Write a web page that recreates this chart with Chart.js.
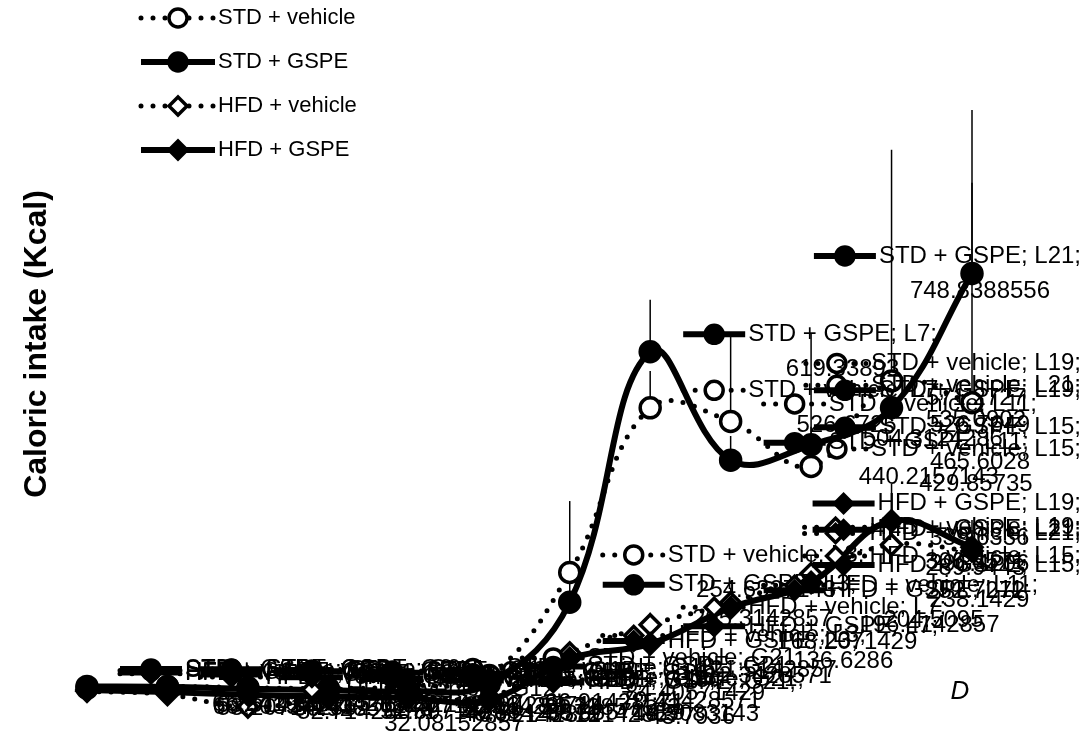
<!DOCTYPE html>
<html>
<head>
<meta charset="utf-8">
<script src="https://cdn.jsdelivr.net/npm/chart.js@4.4.1/dist/chart.umd.min.js"></script>
<style>
  html, body { margin: 0; padding: 0; background: #fff; }
  #wrap { width: 1083px; height: 740px; position: relative; }
</style>
</head>
<body>
<div id="wrap"><canvas id="mycanvas"></canvas></div>
<script>
// time points (gestation G / lactation L days)
var days = ["G6", "G9", "G12", "G15", "G18", "G21", "L3", "L7", "L11", "L15", "L19", "L21"];

var seriesNames = ["STD + vehicle", "STD + GSPE", "HFD + vehicle", "HFD + GSPE"];

// caloric intake, Kcal
var stdVehicle = [63.51428571, 66.13571429, 64.32142857, 62.84285714, 66.91428571, 84.40571429, 254.6327143, 526.6725, 504.3124286, 429.85735, 571.2727, 535.0902];
var stdGspe    = [66.24103571, 65.51428571, 62.40714286, 60.11428571, 58.32857143, 70.41428571, 205.3142857, 619.33893, 440.2157143, 465.6028, 526.7649, 748.8388556];
var hfdVehicle = [58.20714286, 52.71428571, 32.08152857, 46.52142857, 50.93571429, 48.5083143, 121.5142857, 168.2071429, 204.5095, 252.7272, 300.4571, 289.9443];
var hfdGspe    = [60.40357143, 56.92857143, 52.30714286, 49.61428571, 47.12142857, 43.7936, 112.3428571, 136.6286, 196.4142857, 238.1429, 339.6336, 296.4206];

// upper error (SEM)
var stdVehicleErr = [6, 5, 5, 6, 7, 9, 118, 61, 142, 219, 382, 484];
var stdGspeErr    = [5, 5, 4, 5, 6, 8, 40, 86, 40, 30, 60, 150];
var hfdVehicleErr = [4, 4, 3, 4, 4, 6, 15, 20, 25, 30, 40, 35];
var hfdGspeErr    = [4, 4, 3, 4, 4, 5, 14, 18, 22, 28, 62, 45];

var yTitle = "Caloric intake (Kcal)";
var panelLetter = "D";

var labelFont = '24px "Liberation Sans", Arial, sans-serif';

function drawMarker(ctx, style, filled, r, x, y) {
    ctx.save();
    ctx.setLineDash([]);
    ctx.lineWidth = 3.5;
    ctx.strokeStyle = "#000";
    ctx.fillStyle = filled ? "#000" : "#fff";
    ctx.beginPath();
    if (style === "rectRot") {
        ctx.moveTo(x, y - r);
        ctx.lineTo(x + r, y);
        ctx.lineTo(x, y + r);
        ctx.lineTo(x - r, y);
        ctx.closePath();
    } else {
        ctx.arc(x, y, r, 0, Math.PI * 2);
    }
    ctx.fill();
    ctx.stroke();
    ctx.restore();
}

function drawKey(ctx, ds, x, y, len) {
    ctx.save();
    ctx.strokeStyle = "#000";
    ctx.lineWidth = ds.borderWidth;
    ctx.lineCap = ds.borderCapStyle || "butt";
    ctx.setLineDash(ds.borderDash || []);
    ctx.beginPath();
    ctx.moveTo(x, y);
    ctx.lineTo(x + len, y);
    ctx.stroke();
    ctx.restore();
    drawMarker(ctx, ds.pointStyle, ds.pointBackgroundColor === "#000", ds.pointRadius - 1, x + len / 2, y);
}

var extras = {
    id: "extras",
    beforeDatasetsDraw: function (chart) {
        var ctx = chart.ctx;
        var xs = chart.scales.x, ys = chart.scales.y;
        ctx.save();
        ctx.strokeStyle = "#000";
        ctx.lineWidth = 1.5;
        chart.data.datasets.forEach(function (ds) {
            ds.data.forEach(function (v, i) {
                var x = xs.getPixelForValue(i);
                ctx.beginPath();
                ctx.moveTo(x, ys.getPixelForValue(v));
                ctx.lineTo(x, ys.getPixelForValue(v + ds.errPlus[i]));
                ctx.stroke();
            });
        });
        ctx.restore();
    },
    afterDatasetsDraw: function (chart) {
        var ctx = chart.ctx;
        var xs = chart.scales.x, ys = chart.scales.y;
        var W = chart.width;

        // data labels with legend keys
        ctx.save();
        ctx.font = labelFont;
        ctx.fillStyle = "#000";
        ctx.textBaseline = "middle";
        chart.data.datasets.forEach(function (ds) {
            ds.data.forEach(function (v, i) {
                var px = xs.getPixelForValue(i), py = ys.getPixelForValue(v);
                var first = ds.label + "; " + days[i] + ";";
                var lines;
                if (ctx.measureText(first).width <= 225) {
                    lines = [first, String(v)];
                } else {
                    lines = [ds.label + ";", days[i] + "; " + String(v)];
                }
                var tw = Math.max(ctx.measureText(lines[0]).width, ctx.measureText(lines[1]).width);
                var keyLen = 62;
                var left = px + 33;
                var blockW = keyLen + 3 + tw;
                if (left + blockW > W - 2) left = W - 2 - blockW;
                var lh = 35;
                var top = py - lh * lines.length / 2;
                var textL = left + keyLen + 3;
                lines.forEach(function (t, k) {
                    var y = top + lh * (k + 0.5);
                    if (k === 0) drawKey(ctx, ds, left, y, keyLen);
                    ctx.font = labelFont;
                    ctx.fillStyle = "#000";
                    ctx.textAlign = "center";
                    ctx.fillText(t, textL + tw / 2, y);
                });
            });
        });
        ctx.restore();

        // legend (top left, stacked)
        ctx.save();
        ctx.font = '22px "Liberation Sans", Arial, sans-serif';
        ctx.textBaseline = "middle";
        ctx.textAlign = "left";
        chart.data.datasets.forEach(function (ds, k) {
            var y = 18 + 44 * k;
            drawKey(ctx, ds, 141, y, 74);
            ctx.fillStyle = "#000";
            ctx.fillText(ds.label, 218, y);
        });
        ctx.restore();

        // y axis title
        ctx.save();
        ctx.translate(37, 344);
        ctx.rotate(-Math.PI / 2);
        ctx.font = 'bold 32px "Liberation Sans", Arial, sans-serif';
        ctx.textAlign = "center";
        ctx.textBaseline = "middle";
        ctx.fillStyle = "#000";
        ctx.fillText(yTitle, 0, 0);
        ctx.restore();

        // panel letter
        ctx.save();
        ctx.font = 'italic 26px "Liberation Sans", Arial, sans-serif';
        ctx.textAlign = "center";
        ctx.textBaseline = "middle";
        ctx.fillStyle = "#000";
        ctx.fillText(panelLetter, 960, 692);
        ctx.restore();
    }
};

function makeSet(name, values, err, dotted, style, filled, order) {
    return {
        label: name,
        data: values,
        errPlus: err,
        order: order,
        borderColor: "#000",
        borderWidth: dotted ? 5 : 6,
        borderDash: dotted ? [0, 12] : [],
        borderCapStyle: dotted ? "round" : "butt",
        tension: 0.4,
        fill: false,
        clip: false,
        pointStyle: style,
        pointRadius: 10,
        pointBorderWidth: 3.5,
        pointBorderColor: "#000",
        pointBackgroundColor: filled ? "#000" : "#fff"
    };
}

var ctx = document.getElementById("mycanvas");

var lineGraph = new Chart(ctx, {
    type: "line",
    data: {
        labels: days,
        datasets: [
            makeSet(seriesNames[0], stdVehicle, stdVehicleErr, true, "circle", false, 1),
            makeSet(seriesNames[1], stdGspe, stdGspeErr, false, "circle", true, 0),
            makeSet(seriesNames[2], hfdVehicle, hfdVehicleErr, true, "rectRot", false, 3),
            makeSet(seriesNames[3], hfdGspe, hfdGspeErr, false, "rectRot", true, 2)
        ]
    },
    options: {
        responsive: true,
        maintainAspectRatio: false,
        animation: false,
        layout: { padding: { left: 87, right: 111, top: 182, bottom: 2 } },
        plugins: {
            legend: { display: false },
            tooltip: { enabled: false }
        },
        scales: {
            x: { display: false },
            y: { display: false, min: 0, max: 900 }
        }
    },
    plugins: [extras]
});
</script>
</body>
</html>
